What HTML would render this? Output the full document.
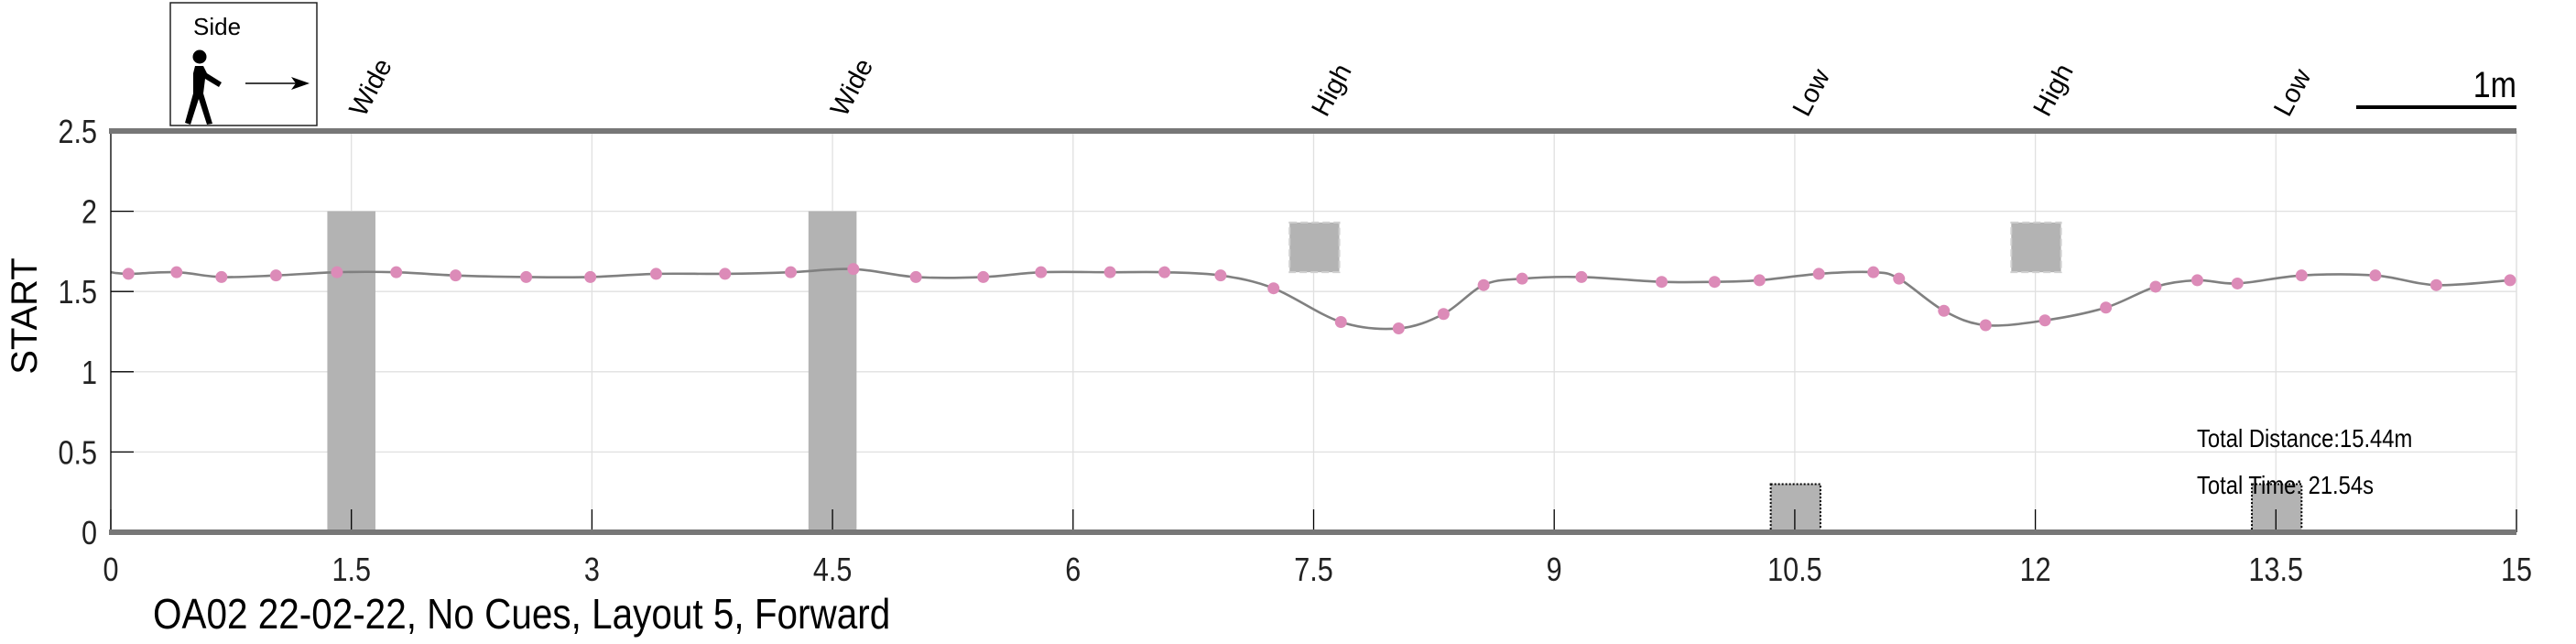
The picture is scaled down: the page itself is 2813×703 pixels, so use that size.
<!DOCTYPE html>
<html><head><meta charset="utf-8"><style>
html,body{margin:0;padding:0;background:#fff}
svg{display:block}
text{font-family:"Liberation Sans",sans-serif}
</style></head><body>
<svg id="chart" width="2813" height="703" viewBox="0 0 2813 703" xmlns="http://www.w3.org/2000/svg">
<g id="grid"></g>
<g id="obstacles"></g>
<g id="series"></g>
<g id="axes"></g>
<g id="legend">
  <rect x="186" y="3" width="160" height="134" fill="#fff" stroke="#222" stroke-width="1.5"/>
  <text x="211" y="38" font-size="26" fill="#000">Side</text>
  <circle cx="218" cy="62" r="7.5" fill="#000"/>
  <path d="M213 72 L222 72 L226 80 L242 90 L239 95 L224 86 L222 102 L232 135 L226 136 L217 108 L208 136 L202 134 L211 102 L211 80 Z" fill="#000"/>
  <line x1="268" y1="91" x2="328" y2="91" stroke="#000" stroke-width="1.5"/>
  <path d="M318 84 L338 91 L318 98 L323 91 Z" fill="#000"/>
</g>
<g id="scalebar">
  <line x1="2573" y1="117" x2="2748" y2="117" stroke="#000" stroke-width="4"/>
  <text x="2748" y="106" font-size="40" text-anchor="end" fill="#000" transform="translate(2748 0) scale(0.85 1) translate(-2748 0)">1m</text>
</g>
<text x="2399" y="488" font-size="28" fill="#000" transform="translate(2399 0) scale(0.85 1) translate(-2399 0)">Total Distance:15.44m</text>
<text x="2399" y="539" font-size="28" fill="#000" transform="translate(2399 0) scale(0.85 1) translate(-2399 0)">Total Time: 21.54s</text>
<text x="167" y="686" font-size="46" fill="#000" transform="translate(167 0) scale(0.88 1) translate(-167 0)">OA02 22-02-22, No Cues, Layout 5, Forward</text>
<text x="0" y="0" font-size="40" text-anchor="middle" fill="#000" transform="translate(40 345) rotate(-90)">START</text>
</svg>
<script>
const xTicks=[0,1.5,3,4.5,6,7.5,9,10.5,12,13.5,15];
const xTickLabels=["0","1.5","3","4.5","6","7.5","9","10.5","12","13.5","15"];
const yTicks=[0,0.5,1,1.5,2,2.5];
const yTickLabels=["0","0.5","1","1.5","2","2.5"];
const pathX=[0,0.11,0.41,0.69,1.03,1.41,1.78,2.15,2.59,2.99,3.4,3.83,4.24,4.63,5.02,5.44,5.8,6.23,6.57,6.92,7.25,7.67,8.03,8.31,8.56,8.8,9.17,9.67,10.0,10.28,10.65,10.99,11.15,11.43,11.69,12.06,12.44,12.75,13.01,13.26,13.66,14.12,14.5,14.96];
const pathY=[1.62,1.61,1.62,1.59,1.6,1.62,1.62,1.6,1.59,1.59,1.61,1.61,1.62,1.64,1.59,1.59,1.62,1.62,1.62,1.6,1.52,1.31,1.27,1.36,1.54,1.58,1.59,1.56,1.56,1.57,1.61,1.62,1.58,1.38,1.29,1.32,1.4,1.53,1.57,1.55,1.6,1.6,1.54,1.57];
const markerIdx=[1,2,3,4,5,6,7,8,9,10,11,12,13,14,15,16,17,18,19,20,21,22,23,24,25,26,27,28,29,30,31,32,33,34,35,36,37,38,39,40,41,42,43];
const obsNames=["Wide","Wide","High","Low","High","Low"];
const obsCenter=[1.5,4.5,7.5,10.5,12,13.5];
const obsX0=[1.35,4.35,7.35,10.35,11.85,13.35];
const obsX1=[1.65,4.65,7.66,10.66,12.16,13.66];
const obsY0=[0,0,1.62,0,1.62,0];
const obsY1=[2,2,1.93,0.3,1.93,0.3];

const L=121,R=2748,T=143,B=581,XMAX=15,YMAX=2.5;
const sx=v=>L+(v/XMAX)*(R-L);
const sy=v=>B-(v/YMAX)*(B-T);
const NS="http://www.w3.org/2000/svg";
function mk(tag,attrs,parent){const e=document.createElementNS(NS,tag);for(const k in attrs)e.setAttribute(k,attrs[k]);parent.appendChild(e);return e;}
const gridG=document.getElementById('grid'),obsG=document.getElementById('obstacles'),serG=document.getElementById('series'),axG=document.getElementById('axes');

xTicks.forEach((t,i)=>{
  const g=mk('line',{x1:sx(t),x2:sx(t),y1:T,y2:B,stroke:'#e0e0e0','stroke-width':1.3},gridG);
  
  
  const tk=mk('line',{x1:sx(t),x2:sx(t),y1:B,y2:B-25,stroke:'#000','stroke-width':1.3},axG);
  
  
  const lb=mk('text',{x:sx(t),y:634,'font-size':36,'text-anchor':'middle',fill:'#222',transform:`translate(${sx(t)} 0) scale(0.85 1) translate(${-sx(t)} 0)`},axG);
  lb.textContent=xTickLabels[i];
  
  
});
yTicks.forEach((t,i)=>{
  const g=mk('line',{x1:L,x2:R,y1:sy(t),y2:sy(t),stroke:'#e0e0e0','stroke-width':1.3},gridG);
  
  
  const tk=mk('line',{x1:L,x2:L+25,y1:sy(t),y2:sy(t),stroke:'#000','stroke-width':1.3},axG);
  
  
  const lb=mk('text',{x:106,y:sy(t)+13,'font-size':36,'text-anchor':'end',fill:'#222',transform:`translate(106 0) scale(0.85 1) translate(-106 0)`},axG);
  lb.textContent=yTickLabels[i];
  
  
});
const yAxisLine=mk('line',{x1:L,x2:L,y1:T,y2:B,stroke:'#000','stroke-width':1.3},axG);


const rightBorder=mk('line',{x1:R,x2:R,y1:T,y2:B,stroke:'#e0e0e0','stroke-width':1.3},gridG);



obsNames.forEach((n,i)=>{
  const low=obsY0[i]===0&&obsY1[i]<1, high=obsY0[i]>0;
  const attrs={x:sx(obsX0[i]),y:sy(obsY1[i]),width:sx(obsX1[i])-sx(obsX0[i]),height:sy(obsY0[i])-sy(obsY1[i]),fill:'#b3b3b3'};
  if(low){attrs.stroke='#000';attrs['stroke-width']=2;attrs['stroke-dasharray']='2 2';}
  if(high){attrs.stroke='#d0d0d0';attrs['stroke-width']=2;attrs['stroke-dasharray']='8 4';}
  const r=mk('rect',attrs,obsG);
  
  
  const cx=sx(obsCenter[i])+14;
  const t=mk('text',{x:0,y:0,'font-size':29,fill:'#000',transform:`translate(${cx} 129) rotate(-62)`},obsG);
  t.textContent=n;
  
  
});

const P=pathX.map((x,i)=>[sx(x),sy(pathY[i])]);
let d=`M${P[0][0]},${P[0][1]}`;
for(let i=0;i<P.length-1;i++){
  const p0=P[Math.max(0,i-1)],p1=P[i],p2=P[i+1],p3=P[Math.min(P.length-1,i+2)];
  const c1=[p1[0]+(p2[0]-p0[0])/6,p1[1]+(p2[1]-p0[1])/6];
  const c2=[p2[0]-(p3[0]-p1[0])/6,p2[1]-(p3[1]-p1[1])/6];
  d+=` C${c1[0]},${c1[1]} ${c2[0]},${c2[1]} ${p2[0]},${p2[1]}`;
}
const walkPath=mk('path',{d:d,fill:'none',stroke:'#808080','stroke-width':2.6},serG);


markerIdx.forEach(k=>{
  const c=mk('circle',{cx:sx(pathX[k]),cy:sy(pathY[k]),r:6.5,fill:'#dc8bb8'},serG);
  
  
});

const topLine=mk('line',{x1:L-2,x2:R,y1:sy(2.5),y2:sy(2.5),stroke:'#777','stroke-width':6},axG);


const botLine=mk('line',{x1:L-2,x2:R,y1:sy(0),y2:sy(0),stroke:'#777','stroke-width':6},axG);


</script>
</body></html>
